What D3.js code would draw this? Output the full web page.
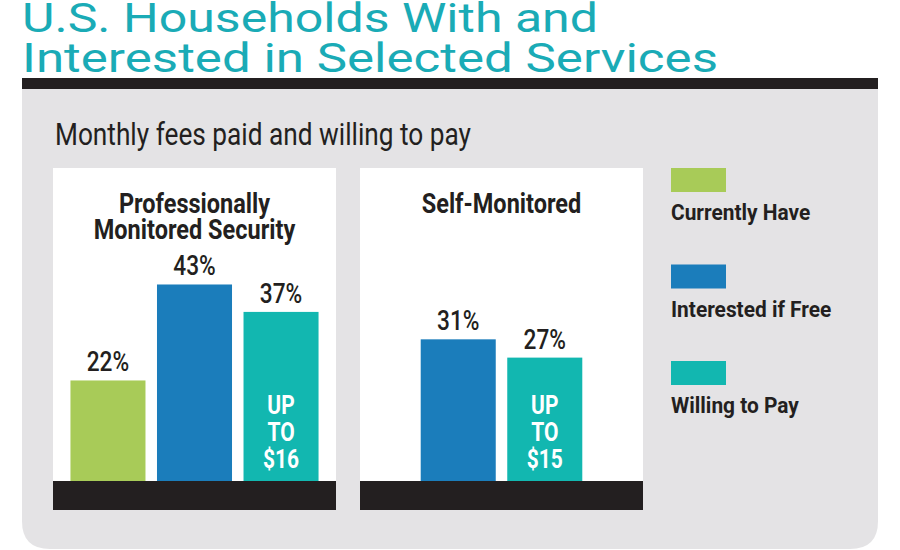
<!DOCTYPE html>
<html lang="en">
<head>
  <meta charset="UTF-8">
  <title>U.S. Households With and Interested in Selected Services</title>
  <script src="https://d3js.org/d3.v7.min.js"></script>
  <style>
    body { margin: 0; background: #fff; }
    svg { display: block; }
    text { font-family: Roboto, "Liberation Sans", sans-serif; }
  </style>
</head>
<body>
  <div id="chart"></div>
  <script>
    // data
    const titleLines = ['U.S. Households With and', 'Interested in Selected Services'];
    const subtitle = 'Monthly fees paid and willing to pay';
    const seriesNames = ['Currently Have', 'Interested if Free', 'Willing to Pay'];
    const panelTitles = [['Professionally', 'Monitored Security'], ['Self-Monitored']];
    const proSeries = ['Currently Have', 'Interested if Free', 'Willing to Pay'];
    const proValues = [22, 43, 37];
    const selfSeries = ['Interested if Free', 'Willing to Pay'];
    const selfValues = [31, 27];
    const payCaps = ['$16', '$15'];

    const W = 900, H = 550;
    const ink = '#231f20';
    const color = d3.scaleOrdinal().domain(seriesNames).range(['#a8cb58', '#1b7dbb', '#12b7b0']);

    const svg = d3.select('#chart').append('svg').attr('width', W).attr('height', H);

    // condensed look: squeeze a normal font horizontally
    function squeezed(parent, x, y, str, opts) {
      const g = parent.append('g').attr('transform', `translate(${x},${y}) scale(${opts.sx},1)`);
      return g.append('text')
        .attr('text-anchor', opts.anchor || 'start')
        .attr('font-size', opts.size)
        .attr('font-weight', opts.weight || 400)
        .attr('fill', opts.fill || ink)
        .text(str);
    }

    // title
    svg.selectAll('text.title')
      .data(titleLines)
      .join('text')
      .attr('class', 'title')
      .attr('x', 22)
      .attr('y', (d, i) => 32 + i * 40)
      .attr('font-size', 41)
      .attr('font-weight', 400)
      .attr('fill', '#1aabb6')
      .attr('textLength', (d, i) => i ? 696 : 576)
      .attr('lengthAdjust', 'spacingAndGlyphs')
      .text(d => d);

    // gray card with rounded bottom corners
    const cx0 = 22, cx1 = 878, cy0 = 89, cy1 = 549, r = 28;
    svg.append('path')
      .attr('d', `M${cx0},${cy0}H${cx1}V${cy1 - r}Q${cx1},${cy1} ${cx1 - r},${cy1}H${cx0 + r}Q${cx0},${cy1} ${cx0},${cy1 - r}Z`)
      .attr('fill', '#e4e3e5');
    svg.append('rect').attr('x', cx0).attr('y', 78).attr('width', cx1 - cx0).attr('height', 11).attr('fill', ink);

    squeezed(svg, 55, 145, subtitle, { size: 32, sx: 0.82, weight: 400 });

    const y = d3.scaleLinear().domain([0, 100]).range([481, 24]);

    const panels = [
      { x0: 53, x1: 336, cats: proSeries, vals: proValues, titles: panelTitles[0], cap: payCaps[0] },
      { x0: 360, x1: 643, cats: selfSeries, vals: selfValues, titles: panelTitles[1], cap: payCaps[1] }
    ];

    const step = 86.5;
    panels.forEach(p => {
      const g = svg.append('g');
      g.append('rect').attr('x', p.x0).attr('y', 168).attr('width', p.x1 - p.x0).attr('height', 342).attr('fill', '#fff');
      const mid = (p.x0 + p.x1) / 2;
      const half = step * p.cats.length / 2;
      const x = d3.scaleBand().domain(p.cats).range([mid - half, mid + half]).paddingInner(0.133).paddingOuter(0.066);

      p.titles.forEach((t, i) => squeezed(g, mid, 213 + i * 25.5, t, { size: 28, sx: 0.84, weight: 700, anchor: 'middle' }));

      const rows = p.cats.map((c, i) => ({ cat: c, val: p.vals[i] }));
      g.selectAll('rect.bar')
        .data(rows)
        .join('rect')
        .attr('class', 'bar')
        .attr('x', d => x(d.cat))
        .attr('width', x.bandwidth())
        .attr('y', d => y(d.val))
        .attr('height', d => y(0) - y(d.val))
        .attr('fill', d => color(d.cat));

      rows.forEach(d => {
        squeezed(g, x(d.cat) + x.bandwidth() / 2, y(d.val) - 9, d.val + '%', { size: 27, sx: 0.84, weight: 500, anchor: 'middle' });
      });

      const pay = rows.find(d => d.cat === 'Willing to Pay');
      const px = x(pay.cat) + x.bandwidth() / 2;
      ['UP', 'TO', p.cap].forEach((t, i) =>
        squeezed(g, px, y(0) - 67 + i * 27, t, { size: 25, sx: 0.84, weight: 700, anchor: 'middle', fill: '#fff' }));

      g.append('rect').attr('x', p.x0).attr('y', y(0)).attr('width', p.x1 - p.x0).attr('height', 510 - y(0)).attr('fill', ink);
    });

    // legend
    const lg = svg.append('g').attr('transform', 'translate(671,168)');
    seriesNames.forEach((s, i) => {
      lg.append('rect').attr('x', 0).attr('y', i * 96.5).attr('width', 55).attr('height', 24).attr('fill', color(s));
      squeezed(lg, 0, i * 96.5 + 52, s, { size: 22, sx: 0.95, weight: 700 });
    });
  </script>
</body>
</html>
